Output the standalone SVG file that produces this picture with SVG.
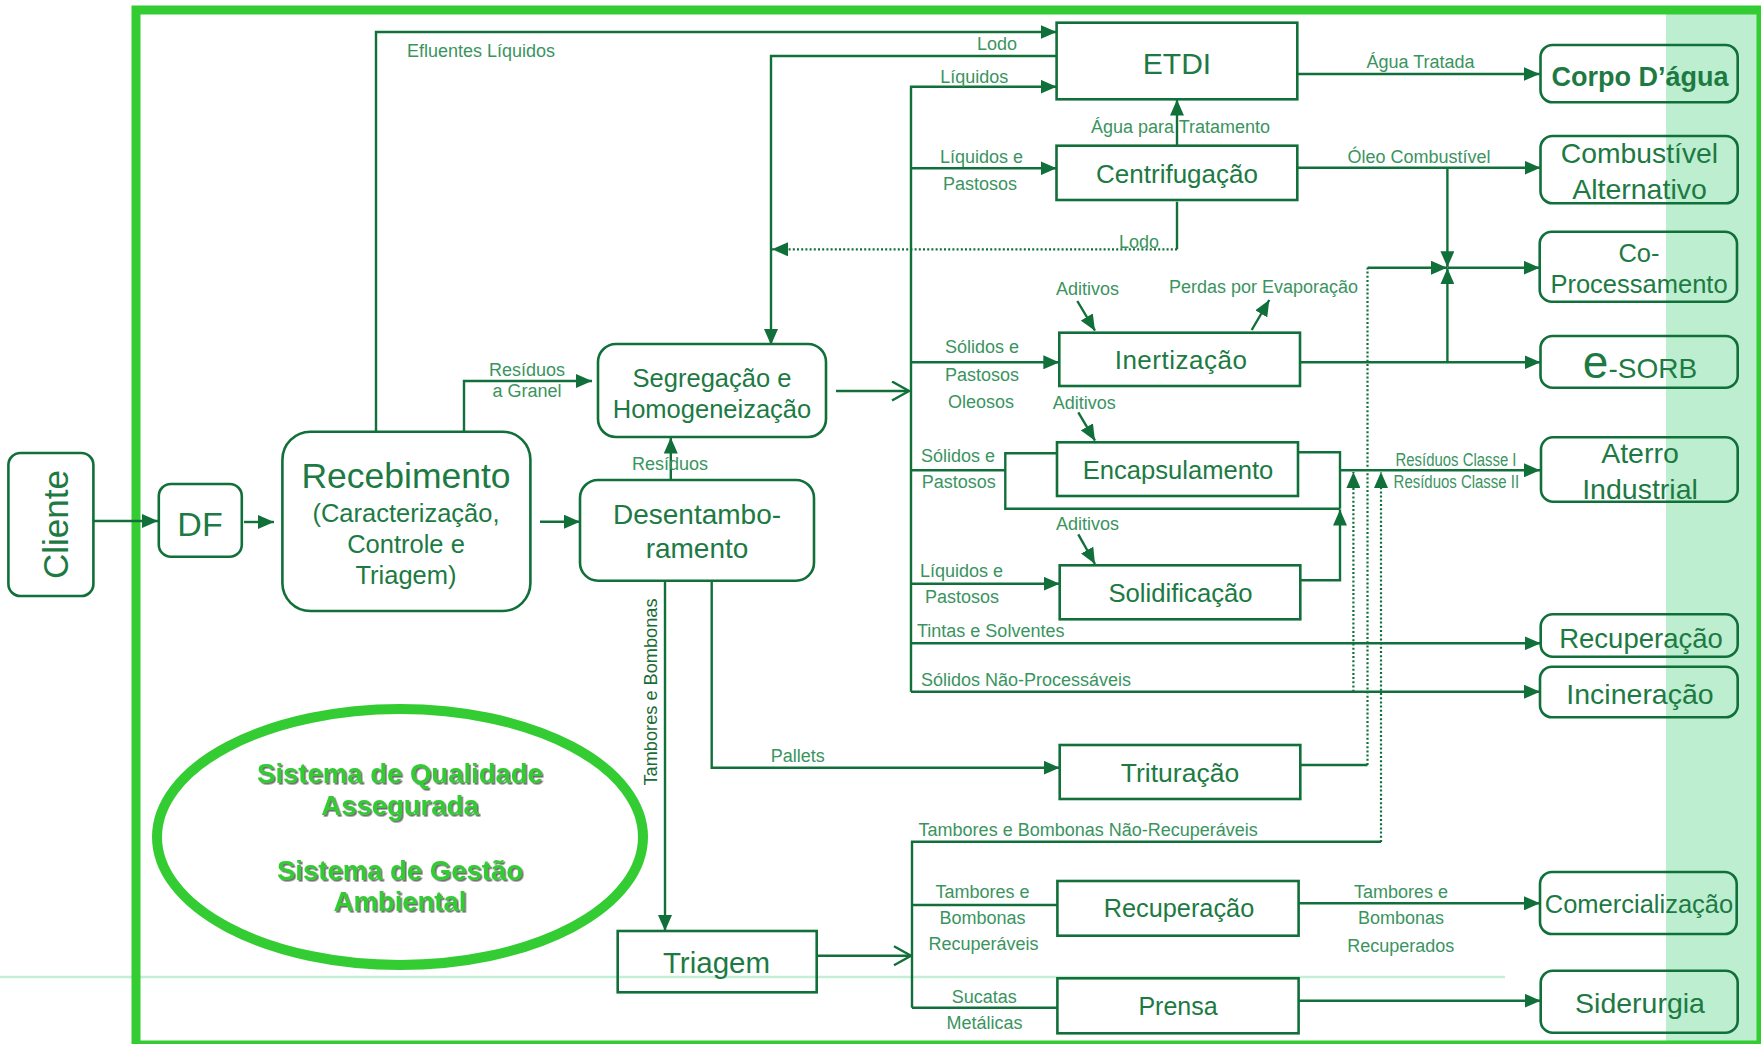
<svg xmlns="http://www.w3.org/2000/svg" width="1761" height="1044" viewBox="0 0 1761 1044">
<style>
.ln{fill:none;stroke:#11703a;stroke-width:2.4}
.dt{fill:none;stroke:#11703a;stroke-width:2.2;stroke-dasharray:2 2.2}
.box{fill:none;stroke:#11703a;stroke-width:2.6}
.nt{font-family:'Liberation Sans',Arial,sans-serif;fill:#1d7a43;text-anchor:middle}
.lb{font-family:'Liberation Sans',Arial,sans-serif;fill:#3a9460;font-size:18px}
.c{text-anchor:middle}
.qs{font-family:'Liberation Sans',Arial,sans-serif;font-weight:bold;font-size:27.5px;fill:#33cc33;text-anchor:middle}
</style>
<defs>
<marker id="a" markerUnits="userSpaceOnUse" markerWidth="16" markerHeight="14" refX="16" refY="7" orient="auto"><path d="M0,0 L16,7 L0,14 Z" fill="#11703a"/></marker>
<marker id="o" markerUnits="userSpaceOnUse" markerWidth="20" markerHeight="22" refX="18" refY="10.5" orient="auto"><path d="M1,1 L18,10.5 L1,20" fill="none" stroke="#11703a" stroke-width="2.4"/></marker>
<filter id="sh" x="-10%" y="-20%" width="120%" height="140%"><feDropShadow dx="1.6" dy="1.6" stdDeviation="0.7" flood-color="#555" flood-opacity="0.85"/></filter>
</defs>
<rect x="0" y="0" width="1761" height="1044" fill="#ffffff"/>
<rect x="1666" y="12" width="92" height="1032" fill="#bdeed0"/>
<line x1="0" y1="977" x2="1505" y2="977" stroke="#c2efd6" stroke-width="2.6"/>
<rect x="136" y="10" width="1625" height="1035" fill="none" stroke="#33cc33" stroke-width="9"/>

<g id="quality">
<ellipse cx="400" cy="837" rx="243" ry="128" fill="none" stroke="#33cc33" stroke-width="10"/>
<g filter="url(#sh)">
<text class="qs" x="400" y="783">Sistema de Qualidade</text>
<text class="qs" x="400" y="815">Assegurada</text>
<text class="qs" x="400" y="880">Sistema de Gestão</text>
<text class="qs" x="400" y="911">Ambiental</text>
</g>
</g>

<g id="connectors">
<path class="ln" d="M94 521 H158" marker-end="url(#a)"/>
<path class="ln" d="M244 522 H274" marker-end="url(#a)"/>
<path class="ln" d="M540 521.7 H580" marker-end="url(#a)"/>
<path class="ln" d="M376 432 V32 H1056.6" marker-end="url(#a)"/>
<path class="ln" d="M464 432 V381 H592" marker-end="url(#a)"/>
<path class="ln" d="M1056.6 56 H771 V345" marker-end="url(#a)"/>
<path class="ln" d="M1177 201.7 V249.3"/>
<path class="dt" d="M1177 249.3 H772" marker-end="url(#a)"/>
<path class="ln" d="M1177 145.7 V99.5" marker-end="url(#a)"/>
<path class="ln" d="M911 691.7 V86.7 H1056.6" marker-end="url(#a)"/>
<path class="ln" d="M911 168.3 H1056.5" marker-end="url(#a)"/>
<path class="ln" d="M911 362.3 H1059.3" marker-end="url(#a)"/>
<path class="ln" d="M911 470.3 H1005.3"/>
<path class="ln" d="M1057 453.3 H1005.3 V508.7 H1340"/>
<path class="ln" d="M1298 452.3 H1340 V508.7"/>
<path class="ln" d="M1340 470.3 H1540" marker-end="url(#a)"/>
<path class="ln" d="M911 583.7 H1059.7" marker-end="url(#a)"/>
<path class="ln" d="M1300.3 580.3 H1340 V509.5" marker-end="url(#a)"/>
<path class="ln" d="M911 643.3 H1540.7" marker-end="url(#a)"/>
<path class="ln" d="M911 691.7 H1540" marker-end="url(#a)"/>
<path class="ln" d="M836 391 H909" marker-end="url(#o)"/>
<path class="ln" d="M1297.3 74 H1539.7" marker-end="url(#a)"/>
<path class="ln" d="M1297.3 167.7 H1540.5" marker-end="url(#a)"/>
<path class="ln" d="M1447.4 167.7 V267.2" marker-end="url(#a)"/>
<path class="ln" d="M1300 362.3 H1540.5" marker-end="url(#a)"/>
<path class="ln" d="M1447.4 362.3 V268.2" marker-end="url(#a)"/>
<path class="ln" d="M1447.4 267.7 H1539.7" marker-end="url(#a)"/>
<path class="ln" d="M1300 765 H1367.5"/>
<path class="dt" d="M1367.5 765 V267.7"/>
<path class="ln" d="M1367.5 267.7 H1447" marker-end="url(#a)"/>
<path class="dt" d="M1353.4 691.7 V472" marker-end="url(#a)"/>
<path class="dt" d="M1381 842 V472" marker-end="url(#a)"/>
<path class="ln" d="M1077.3 301 L1095 330.7" marker-end="url(#a)"/>
<path class="ln" d="M1078.3 412.3 L1095 440.7" marker-end="url(#a)"/>
<path class="ln" d="M1078.3 534.3 L1095 564" marker-end="url(#a)"/>
<path class="ln" d="M1251.7 330 L1269.3 300" marker-end="url(#a)"/>
<path class="ln" d="M670.8 480 V437.5" marker-end="url(#a)"/>
<path class="ln" d="M665 580.7 V931" marker-end="url(#a)"/>
<path class="ln" d="M711.7 580.7 V767.7 H1059.7" marker-end="url(#a)"/>
<path class="ln" d="M816.7 955.7 H911" marker-end="url(#o)"/>
<path class="ln" d="M912 1007.7 V841.7 H1381"/>
<path class="ln" d="M912 905 H1057.4"/>
<path class="ln" d="M912 1007.7 H1057.4"/>
<path class="ln" d="M1298.6 903.3 H1540" marker-end="url(#a)"/>
<path class="ln" d="M1298.6 1000.7 H1540.7" marker-end="url(#a)"/>
</g>

<g id="labels">
<text class="lb" x="407" y="56.7">Efluentes Líquidos</text>
<text class="lb" x="1017" y="50" text-anchor="end" font-size="17.5">Lodo</text>
<text class="lb c" x="974.3" y="83.3">Líquidos</text>
<text class="lb c" x="981.5" y="163">Líquidos e</text>
<text class="lb c" x="980" y="190" font-size="17.5">Pastosos</text>
<text class="lb" x="1091" y="133.3">Água para Tratamento</text>
<text class="lb c" x="1420.5" y="68.3">Água Tratada</text>
<text class="lb c" x="1419" y="163.3" font-size="17.6">Óleo Combustível</text>
<text class="lb" x="1119" y="247.7" font-size="17.5">Lodo</text>
<text class="lb" x="1056" y="295">Aditivos</text>
<text class="lb" x="1169" y="293.3" font-size="17.5">Perdas por Evaporação</text>
<text class="lb c" x="982" y="353.3" font-size="17.6">Sólidos e</text>
<text class="lb c" x="982" y="381" font-size="17.6">Pastosos</text>
<text class="lb c" x="981" y="408.3" font-size="17.6">Oleosos</text>
<text class="lb" x="1052.7" y="409.3">Aditivos</text>
<text class="lb c" x="527" y="376" font-size="17.5">Resíduos</text>
<text class="lb c" x="527" y="397" font-size="17.5">a Granel</text>
<text class="lb c" x="670" y="470" font-size="17.5">Resíduos</text>
<text class="lb" x="921" y="461.7" font-size="17.6">Sólidos e</text>
<text class="lb" x="921.7" y="488.3" font-size="17.5">Pastosos</text>
<text class="lb" x="1056" y="530">Aditivos</text>
<text class="lb" x="920" y="576.7">Líquidos e</text>
<text class="lb" x="925" y="602.7" font-size="17.5">Pastosos</text>
<text class="lb" x="917" y="636.7">Tintas e Solventes</text>
<text class="lb" x="921" y="685.7" font-size="16.6">Sólidos Não-Processáveis</text>
<text class="lb" x="1395.5" y="465.7" font-size="14.5" textLength="121" lengthAdjust="spacingAndGlyphs">Resíduos Classe I</text>
<text class="lb" x="1393.6" y="488.3" font-size="14.5" textLength="125.5" lengthAdjust="spacingAndGlyphs">Resíduos Classe II</text>
<text class="lb" x="770.7" y="761.7" font-size="17.3">Pallets</text>
<text x="0" y="0" transform="translate(656.5,692) rotate(-90)" font-family="'Liberation Sans',Arial,sans-serif" font-size="18.2" fill="#1a6b36" text-anchor="middle">Tambores e Bombonas</text>
<text class="lb" x="918.6" y="836" font-size="17.4">Tambores e Bombonas Não-Recuperáveis</text>
<text class="lb c" x="982.5" y="897.7" font-size="17.5">Tambores e</text>
<text class="lb c" x="982.5" y="924.3" font-size="17.5">Bombonas</text>
<text class="lb c" x="983.5" y="950" font-size="17.5">Recuperáveis</text>
<text class="lb c" x="984.3" y="1003.3" font-size="17.5">Sucatas</text>
<text class="lb c" x="984.5" y="1029.3" font-size="17.5">Metálicas</text>
<text class="lb c" x="1401" y="897.7" font-size="17.5">Tambores e</text>
<text class="lb c" x="1401" y="924.3" font-size="17.5">Bombonas</text>
<text class="lb c" x="1400.7" y="951.7" font-size="17.5">Recuperados</text>
</g>

<g id="cliente"><rect class="box" x="8.4" y="453" width="85" height="143" rx="12"/>
<text class="nt" transform="translate(68,524.5) rotate(-90)" font-size="35">Cliente</text></g>
<g id="df"><rect class="box" x="158.8" y="484" width="83" height="72.7" rx="12"/>
<text class="nt" x="200" y="536" font-size="34">DF</text></g>
<g id="recebimento"><rect class="box" x="282.4" y="431.7" width="248" height="179.3" rx="28"/>
<text class="nt" x="406" y="488" font-size="35.5">Recebimento</text>
<text class="nt" x="406" y="521.7" font-size="25.5">(Caracterização,</text>
<text class="nt" x="406" y="553" font-size="25.5">Controle e</text>
<text class="nt" x="406" y="584" font-size="25.5">Triagem)</text></g>
<g id="segregacao"><rect class="box" x="598" y="344" width="228" height="93" rx="18"/>
<text class="nt" x="712" y="386.7" font-size="25.5">Segregação e</text>
<text class="nt" x="712" y="418" font-size="25.5">Homogeneização</text></g>
<g id="desentambo"><rect class="box" x="580" y="480" width="234" height="100.7" rx="18"/>
<text class="nt" x="697" y="524" font-size="28">Desentambo-</text>
<text class="nt" x="697" y="558.3" font-size="28">ramento</text></g>
<g id="triagem"><rect class="box" x="617.7" y="931" width="199" height="61.3"/>
<text class="nt" x="716.5" y="973.3" font-size="29.5">Triagem</text></g>
<g id="etdi"><rect class="box" x="1056.6" y="22.7" width="240.7" height="76.6"/>
<text class="nt" x="1177" y="74" font-size="30">ETDI</text></g>
<g id="centrifugacao"><rect class="box" x="1056.5" y="145.7" width="240.8" height="54.3"/>
<text class="nt" x="1177" y="182.7" font-size="26">Centrifugação</text></g>
<g id="inertizacao"><rect class="box" x="1059.3" y="332.7" width="240.7" height="53.3"/>
<text class="nt" x="1181" y="369.3" font-size="26" letter-spacing="0.5">Inertização</text></g>
<g id="encapsulamento"><rect class="box" x="1057" y="442.3" width="241" height="53.7"/>
<text class="nt" x="1178" y="479" font-size="25.6">Encapsulamento</text></g>
<g id="solidificacao"><rect class="box" x="1059.7" y="565.3" width="240.6" height="54"/>
<text class="nt" x="1180.5" y="601.7" font-size="25.7">Solidificação</text></g>
<g id="trituracao"><rect class="box" x="1059.7" y="745" width="240.6" height="54"/>
<text class="nt" x="1180" y="781.7" font-size="26.5">Trituração</text></g>
<g id="recuperacao-mid"><rect class="box" x="1057.4" y="881" width="241.2" height="54.7"/>
<text class="nt" x="1179" y="916.7" font-size="25.3">Recuperação</text></g>
<g id="prensa"><rect class="box" x="1057.4" y="978.3" width="241.2" height="55"/>
<text class="nt" x="1178" y="1015" font-size="25">Prensa</text></g>
<g id="corpo"><rect class="box" x="1540.5" y="45" width="197.2" height="57.3" rx="12"/>
<text class="nt" x="1640" y="86" font-size="27" font-weight="bold" fill="#11703a">Corpo D’água</text></g>
<g id="combustivel"><rect class="box" x="1540.5" y="136" width="197.2" height="67.3" rx="12"/>
<text class="nt" x="1639.5" y="163.3" font-size="28.3">Combustível</text>
<text class="nt" x="1639.5" y="199.3" font-size="28.5">Alternativo</text></g>
<g id="coproc"><rect class="box" x="1539.7" y="231.7" width="197.3" height="70" rx="12"/>
<text class="nt" x="1639" y="261.7" font-size="25.5">Co-</text>
<text class="nt" x="1639" y="292.7" font-size="25.5">Processamento</text></g>
<g id="esorb"><rect class="box" x="1540.5" y="336" width="197.2" height="51.7" rx="12"/>
<text class="nt" x="1640" y="378.3" font-size="28"><tspan font-size="46">e</tspan>-SORB</text></g>
<g id="aterro"><rect class="box" x="1541" y="437.3" width="196.7" height="64.4" rx="12"/>
<text class="nt" x="1640" y="463.3" font-size="28.5">Aterro</text>
<text class="nt" x="1640" y="499" font-size="28.5">Industrial</text></g>
<g id="recuperacao-r"><rect class="box" x="1540.7" y="614.3" width="197" height="42.4" rx="12"/>
<text class="nt" x="1641" y="647.7" font-size="27.5">Recuperação</text></g>
<g id="incineracao"><rect class="box" x="1540" y="666.7" width="197.7" height="50.6" rx="12"/>
<text class="nt" x="1640" y="704" font-size="28.5">Incineração</text></g>
<g id="comercializacao"><rect class="box" x="1540" y="872" width="196.7" height="62" rx="12"/>
<text class="nt" x="1639" y="913.3" font-size="25.5">Comercialização</text></g>
<g id="siderurgia"><rect class="box" x="1540.7" y="970.7" width="197" height="62" rx="12"/>
<text class="nt" x="1640" y="1013.3" font-size="28.5">Siderurgia</text></g>
</svg>
